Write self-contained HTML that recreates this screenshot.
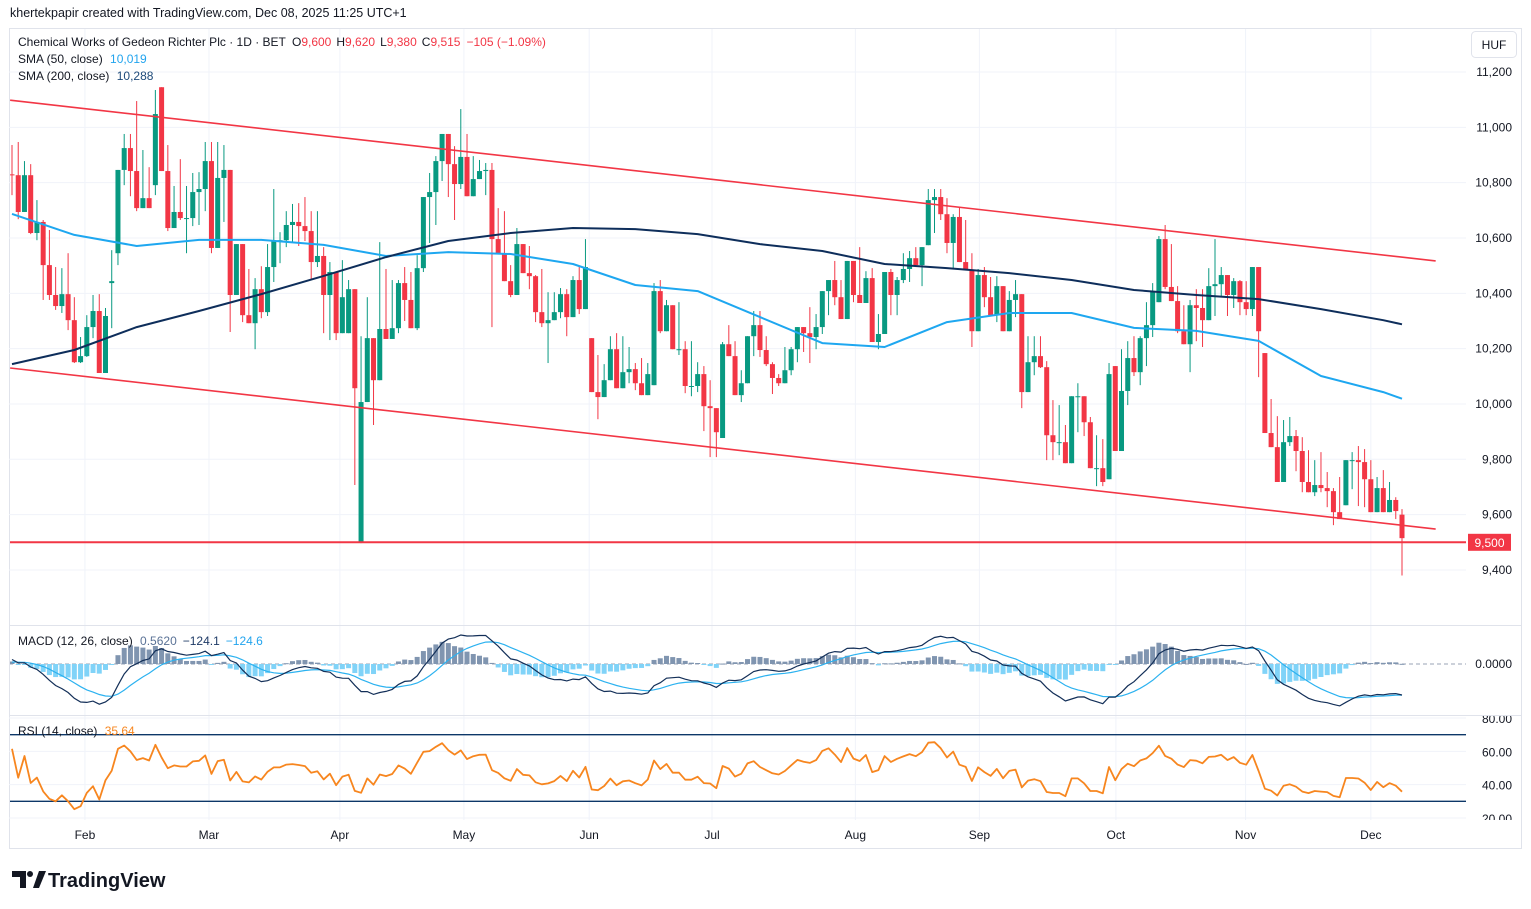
<!DOCTYPE html>
<html><head><meta charset="utf-8">
<style>
html,body{margin:0;padding:0;background:#fff;}
svg{display:block;font-family:"Liberation Sans",Arial,sans-serif;}
</style></head>
<body>
<svg id="chart" width="1531" height="909" viewBox="0 0 1531 909" xmlns="http://www.w3.org/2000/svg">
<defs>
<clipPath id="mainClip"><rect x="10" y="29" width="1456" height="596"/></clipPath>
<clipPath id="macdClip"><rect x="10" y="626" width="1456" height="89"/></clipPath>
<clipPath id="rsiClip"><rect x="10" y="716" width="1456" height="104"/></clipPath>
<clipPath id="rsiAxisClip"><rect x="1466" y="716" width="60" height="104"/></clipPath>
</defs>
<text x="10" y="17" font-size="12.5" fill="#131722">khertekpapir created with TradingView.com, Dec 08, 2025 11:25 UTC+1</text>
<rect x="9.5" y="28.5" width="1512" height="820" fill="#fff" stroke="#e0e3eb"/>
<g id="grid"></g>
<g id="main" clip-path="url(#mainClip)"></g>
<g id="macd" clip-path="url(#macdClip)"></g>
<g id="rsi" clip-path="url(#rsiClip)"></g>
<g id="axes"></g>
<line x1="9" y1="625.5" x2="1521" y2="625.5" stroke="#e0e3eb"/>
<line x1="9" y1="715.5" x2="1521" y2="715.5" stroke="#e0e3eb"/>
<g font-size="12">
<text x="18" y="46" fill="#131722">Chemical Works of Gedeon Richter Plc · 1D · BET <tspan dx="3">O</tspan><tspan fill="#f23645">9,600</tspan><tspan dx="5">H</tspan><tspan fill="#f23645">9,620</tspan><tspan dx="5">L</tspan><tspan fill="#f23645">9,380</tspan><tspan dx="5">C</tspan><tspan fill="#f23645">9,515</tspan><tspan dx="6" fill="#f23645">−105 (−1.09%)</tspan></text>
<text x="18" y="63" fill="#131722">SMA (50, close) <tspan dx="4" fill="#22a4ee">10,019</tspan></text>
<text x="18" y="80" fill="#131722">SMA (200, close) <tspan dx="4" fill="#1e4a7a">10,288</tspan></text>
<text x="18" y="645" fill="#131722">MACD (12, 26, close) <tspan dx="4" fill="#5a7296">0.5620</tspan><tspan dx="6" fill="#1e3a66">−124.1</tspan><tspan dx="6" fill="#22a4ee">−124.6</tspan></text>
<text x="18" y="735" fill="#131722">RSI (14, close) <tspan dx="4" fill="#f7861f">35.64</tspan></text>
</g>
<g>
<rect x="1471.5" y="31.5" width="45" height="26" rx="4" fill="#fff" stroke="#e0e3eb"/>
<text x="1494" y="49" font-size="12" text-anchor="middle" fill="#131722">HUF</text>
</g>
<g>
<path d="M12 871 h14 v17 h-6 v-11 h-8 z" fill="#131722"/>
<circle cx="30" cy="874" r="3" fill="#131722"/>
<path d="M33 888 l6 -17 h7 l-7 17 z" fill="#131722"/>
<text x="48" y="887" font-size="20" font-weight="bold" fill="#131722">TradingView</text>
</g>
</svg>
<script>
// ---------- data ----------
const closes=[10827,10694,10827,10618,10658,10502,10394,10354,10397,10303,
10151,10173,10278,10336,10112,10318,10444,10846,10925,10842,
10708,10744,10708,11048,10842,10636,10694,10672,10672,10766,
10777,10878,10564,10817,10846,10394,10578,10321,10292,10415,
10332,10495,10589,10592,10647,10658,10643,10625,10513,10535,
10394,10477,10256,10386,10415,10057,
10007,10238,10086,10271,10235,10274,10437,10376,10274,10491,
10748,10766,10878,10976,10867,10795,10893,10751,10813,10842,
10846,10596,10545,10444,10394,10578,10473,10462,10332,10292,
10303,10332,10397,10314,10448,10343,10495,10043,10025,10086,
10198,10057,10115,10126,10075,10032,10108,10408,10263,10357,
10198,10198,10065,10065,10108,9992,9985,9898,10216,
10173,10032,10075,10245,10285,10195,10144,10094,10075,10122,
10198,10278,10256,10242,10278,10408,10448,10386,10307,10517,
10394,10365,10455,10224,10253,10477,10394,10448,10488,10527,
10502,10567,10737,10748,10686,10582,10676,10513,10484,10263,
10466,10386,10321,10426,10263,10376,10397,10043,10151,10173,
10133,9887,9862,9862,9786,10028,10028,9934,
9768,9768,9718,10108,9830,10047,10166,10115,10238,10285,
10408,10596,10423,10372,10263,10216,10357,10347,10303,10426,
10433,10466,10394,10444,10368,10343,10495,10263,9895,9844,
9718,9862,9884,9830,9718,9681,9707,9696,9685,9609,
9584,9797,9797,9790,9728,9609,9696,9609,9653,9613,9515];
const highs=[10936,10947,10878,10867,10737,10665,10629,10495,10491,10545,
10386,10242,10321,10394,10397,10347,10556,10846,10976,10976,
11095,10918,10856,11135,11145,10936,10788,10885,10788,10835,
10838,10947,10947,10947,10936,10846,10578,10567,10488,10455,
10498,10578,10777,10621,10697,10723,10726,10748,10697,10697,
10567,10513,10437,10520,10448,10408,
10245,10386,10137,10585,10488,10448,10448,10495,10477,10538,
10748,10835,10896,10976,10976,10932,11066,10976,10896,10882,
10871,10871,10708,10697,10502,10636,10567,10571,10466,10488,
10404,10404,10419,10415,10462,10495,10596,10238,10177,10144,
10245,10256,10245,10206,10148,10166,10148,10437,10448,10376,
10357,10368,10227,10227,10151,10137,10086,9985,10224,
10285,10227,10122,10245,10336,10336,10245,10151,10108,10206,
10206,10278,10278,10350,10325,10408,10448,10517,10448,10517,
10513,10567,10480,10491,10325,10477,10488,10459,10545,10553,
10567,10567,10777,10777,10777,10744,10686,10712,10665,10545,
10488,10495,10459,10462,10397,10408,10448,10354,10245,10245,
10245,10155,10014,9996,9924,10028,10075,10014,
9953,9887,9873,10148,10137,10198,10227,10245,10245,10368,
10437,10607,10647,10578,10426,10357,10376,10415,10415,10491,
10596,10495,10448,10455,10448,10444,10495,10495,10184,10018,
9956,9942,9953,9906,9880,9833,9797,9826,9754,9696,
9736,9797,9826,9848,9837,9797,9736,9761,9718,9663,9620];
const lows=[10755,10668,10694,10614,10592,10376,10376,10340,10329,10267,
10148,10148,10170,10238,10112,10148,10274,10502,10791,10751,
10697,10726,10708,10755,10842,10625,10658,10665,10545,10643,
10647,10697,10545,10658,10658,10260,10484,10296,10292,10198,
10310,10318,10441,10509,10567,10582,10571,10589,10448,10495,
10256,10231,10231,10376,10256,9707,
9497,10097,9924,10267,10235,10256,10256,10300,10274,10267,
10477,10582,10647,10806,10748,10665,10777,10751,10755,10827,
10755,10278,10545,10444,10386,10408,10473,10415,10296,10278,
10148,10307,10310,10245,10347,10325,10426,10043,9945,10054,
10097,10057,10104,10075,10050,10032,10054,10068,10256,10267,
10198,10177,10039,10028,10043,9902,9808,9808,9877,
10173,10032,10007,10086,10173,10170,10137,10036,10065,10097,
10104,10151,10188,10148,10198,10253,10321,10357,10307,10307,
10368,10365,10365,10224,10198,10253,10321,10321,10437,10441,
10495,10426,10574,10618,10665,10545,10488,10513,10484,10206,
10303,10350,10321,10296,10263,10267,10314,9985,10108,10104,
10130,9797,9797,9815,9786,9826,9898,9884,
9768,9703,9703,9728,9830,9873,9996,10101,10068,10137,
10242,10368,10415,10372,10256,10216,10115,10227,10206,10325,
10318,10386,10318,10347,10321,10321,10318,10097,9895,9844,
9718,9776,9848,9757,9681,9681,9667,9681,9627,9562,
9584,9634,9692,9631,9627,9609,9638,9609,9624,9584,9380];
// opens default to the previous close; bars that gapped are listed here [barIndex, open]
const firstOpen=10830;
const gapOpens=[[16,10437],[17,10545],[23,10791],[24,11145],[54,10256],[56,9500],[93,10238],[103,10068],[114,9877],[147,10574],[176,9728],[177,10137],[184,10368],[201,10184],[214,9634],[223,9600]];
// SMA values sampled every 10 bars (last = final bar)
const smaIdx=[0,10,20,30,40,50,60,70,80,90,100,110,120,130,140,150,160,170,180,190,200,210,220,223];
const sma50=[10687,10611,10571,10593,10593,10575,10535,10549,10542,10506,10430,10408,10314,10220,10206,10296,10329,10329,10275,10264,10228,10101,10043,10019];
const sma200=[10144,10195,10278,10336,10397,10463,10531,10589,10618,10636,10632,10614,10578,10553,10506,10491,10473,10448,10412,10394,10379,10343,10303,10288];
// channel lines [barIndex, price]
const channelUpper=[[-0.3,11098],[228.4,10517]];
const channelLower=[[-0.3,10130],[228.4,9548]];
const supportLevel=9500;
const priceTicks=[11200,11000,10800,10600,10400,10200,10000,9800,9600,9400];
const monthLabels=["Feb","Mar","Apr","May","Jun","Jul","Aug","Sep","Oct","Nov","Dec"];
const monthIdx=[11.7,31.6,52.6,72.5,92.6,112.3,135.3,155.2,177.1,197.9,218.0];
const rsiTicks=[80,60,40,20];
const rsiBands=[70,30];
const macdSeed=[18,0,8];    // ema12 offset, ema26 offset, signal start
const rsiSeed=[16,10];      // initial avg gain, avg loss

// ---------- scales ----------
const NS="http://www.w3.org/2000/svg";
const N=closes.length;
const step=1390/(N-1);
function X(i){return 12+i*step;}
function Y(p){return 72+(11200-p)/200*55.33;}
function YM(v){return 664-v/4;}
function YR(v){return 818-(v-20)*100/60;}
function mk(tag,attrs,parent){const e=document.createElementNS(NS,tag);for(const k in attrs)e.setAttribute(k,attrs[k]);parent.appendChild(e);return e;}
const grid=document.getElementById('grid');
const main=document.getElementById('main');
const macdG=document.getElementById('macd');
const rsiG=document.getElementById('rsi');
const axes=document.getElementById('axes');

const opens=closes.map((c,i)=>i===0?firstOpen:closes[i-1]);
gapOpens.forEach(g=>{if(g[0]<N)opens[g[0]]=g[1];});

// grid + axis labels
priceTicks.forEach(p=>{
  const l=mk('line',{x1:9,x2:1466,y1:Y(p),y2:Y(p),stroke:'#f0f3fa'},grid);
  
  
  const t=mk('text',{x:1512,y:Y(p)+4,'font-size':12,'text-anchor':'end',fill:'#131722'},axes);
  t.textContent=p.toLocaleString('en-US');
  
  
});
monthLabels.forEach((m,k)=>{
  const x=X(monthIdx[k]);
  const l=mk('line',{x1:x,x2:x,y1:29,y2:820,stroke:'#f0f3fa'},grid);
  
  
  const t=mk('text',{x:x,y:839,'font-size':12,'text-anchor':'middle',fill:'#131722'},axes);
  t.textContent=m;
  
  
});
[20,40,60,80].forEach(v=>{
  const l=mk('line',{x1:9,x2:1466,y1:YR(v),y2:YR(v),stroke:'#f0f3fa'},grid);
  
  
});
const rsiAx=mk('g',{'clip-path':'url(#rsiAxisClip)'},axes);
rsiTicks.forEach(v=>{
  const t=mk('text',{x:1512,y:YR(v)+5,'font-size':12,'text-anchor':'end',fill:'#131722'},rsiAx);
  t.textContent=v.toFixed(2);
  
  
});
const z=mk('text',{x:1512,y:668,'font-size':12,'text-anchor':'end',fill:'#131722'},axes);
z.textContent='0.0000';



// candles
for(let i=0;i<N;i++){
  const o=opens[i],c=closes[i];
  const h=Math.max(highs[i],o,c),lo=Math.min(lows[i],o,c);
  const col=c>=o?'#089981':'#f23645';
  const x=X(i);
  const w=mk('line',{x1:x,x2:x,y1:Y(h),y2:Y(lo),stroke:col,'stroke-width':1},main);
  
  
  const yt=Y(Math.max(o,c)),yb=Y(Math.min(o,c));
  const b=mk('rect',{x:x-2.5,y:yt,width:5,height:Math.max(1,yb-yt),fill:col},main);
  
  
}
// SMAs
function smaPath(vals){return smaIdx.map((ix,k)=>(k?'L':'M')+X(ix).toFixed(1)+' '+Y(vals[k]).toFixed(1)).join(' ');}
const s50=mk('path',{d:smaPath(sma50),fill:'none',stroke:'#1ea7f0','stroke-width':2,'stroke-linejoin':'round'},main);


const s200=mk('path',{d:smaPath(sma200),fill:'none',stroke:'#0e2e5b','stroke-width':2,'stroke-linejoin':'round'},main);


// channel + support
[channelUpper,channelLower].forEach((c,k)=>{
  const l=mk('line',{x1:X(c[0][0]),y1:Y(c[0][1]),x2:X(c[1][0]),y2:Y(c[1][1]),stroke:'#f23645','stroke-width':1.6},main);
  
  
});
const sup=mk('line',{x1:9,x2:1466,y1:Y(supportLevel),y2:Y(supportLevel),stroke:'#f23645','stroke-width':2},main);


const sb=mk('rect',{x:1468,y:Y(supportLevel)-8.5,width:43,height:17,fill:'#f23645'},axes);


const st=mk('text',{x:1489.5,y:Y(supportLevel)+4.5,'font-size':12,'text-anchor':'middle',fill:'#fff'},axes);
st.textContent=supportLevel.toLocaleString('en-US');



// MACD
let e12=closes[0]+macdSeed[0],e26=closes[0]+macdSeed[1],sig=macdSeed[2];
const mLine=[],sLine=[];
for(let i=0;i<N;i++){
  if(i>0){e12=closes[i]*2/13+e12*11/13;e26=closes[i]*2/27+e26*25/27;}
  const m=e12-e26;
  if(i>0)sig=m*0.2+sig*0.8;
  mLine.push(m);sLine.push(sig);
}
const zl=mk('line',{x1:9,x2:1466,y1:664,y2:664,stroke:'#9aa3b5','stroke-dasharray':'4 3'},macdG);


for(let i=0;i<N;i++){
  const hv=mLine[i]-sLine[i];
  const y0=YM(0),y1=YM(hv);
  const r=mk('rect',{x:X(i)-2.5,y:Math.min(y0,y1),width:5,height:Math.max(1,Math.abs(y1-y0)),fill:hv>=0?'#8095b0':'#80d3f8'},macdG);
  
  
}
function linePath(arr,fy){return arr.map((v,i)=>(i?'L':'M')+X(i).toFixed(1)+' '+fy(v).toFixed(1)).join(' ');}
const sl=mk('path',{d:linePath(sLine,YM),fill:'none',stroke:'#2cb2f0','stroke-width':1.2},macdG);


const ml=mk('path',{d:linePath(mLine,YM),fill:'none',stroke:'#132f58','stroke-width':1.2},macdG);



// RSI
let ag=rsiSeed[0],al=rsiSeed[1];
const rsiVals=[100-100/(1+ag/al)];
for(let i=1;i<N;i++){
  const d=closes[i]-closes[i-1];
  ag=(ag*13+Math.max(d,0))/14;al=(al*13+Math.max(-d,0))/14;
  rsiVals.push(100-100/(1+ag/al));
}
rsiBands.forEach(v=>{
  const l=mk('line',{x1:9,x2:1466,y1:YR(v),y2:YR(v),stroke:'#0d3768','stroke-width':1.3},rsiG);
  
  
});
const rl=mk('path',{d:linePath(rsiVals,YR),fill:'none',stroke:'#f7861f','stroke-width':1.8,'stroke-linejoin':'round'},rsiG);


</script>
</body></html>
